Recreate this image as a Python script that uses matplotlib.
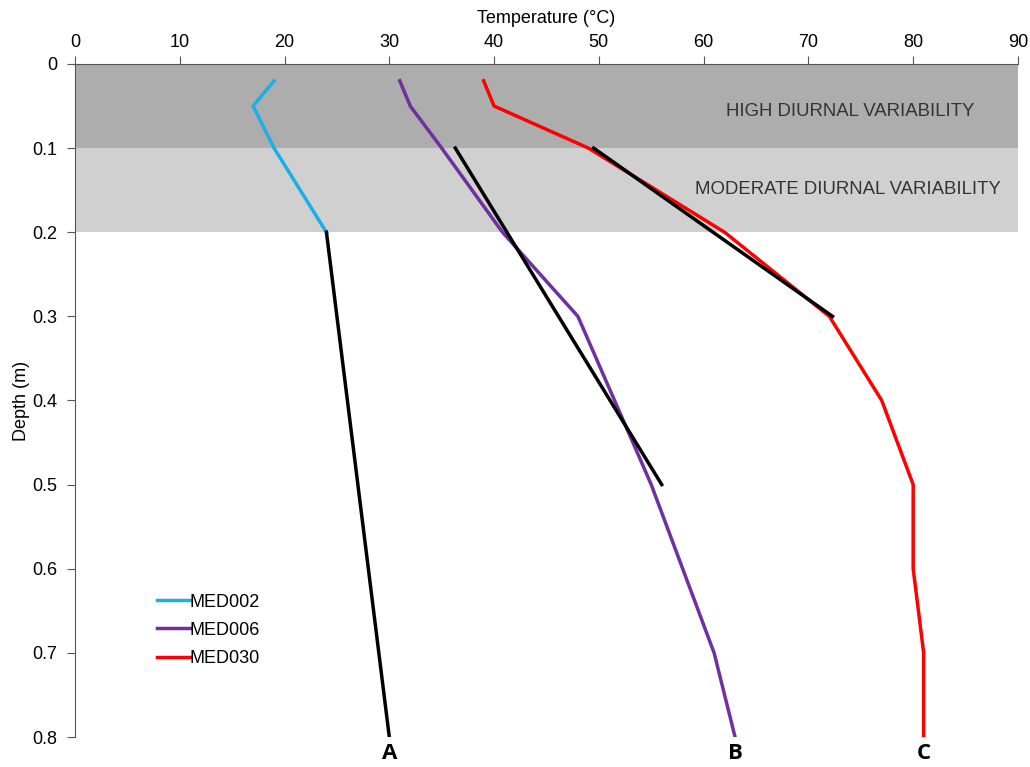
import numpy as np
import matplotlib.pyplot as plt

plt.rcParams['font.family'] = ['Liberation Sans', 'DejaVu Sans']

# depth profiles (m) and temperatures (deg C)
depth_top = [0.02, 0.05, 0.1, 0.2]
med002_t = [19, 17, 19, 24]

depth_full = [0.02, 0.05, 0.1, 0.2, 0.3, 0.4, 0.5, 0.6, 0.7, 0.8]
med006_t = [31, 32, 35, 40.8, 48, 51.5, 55, 58, 61, 63]
med030_t = [39, 40, 49, 62, 72, 77, 80, 80, 81, 81]

# black trend lines (temp, depth)
fit_a_t = [24, 30]
fit_a_d = [0.2, 0.8]
fit_b_t = [36.3, 56]
fit_b_d = [0.1, 0.5]
fit_c_t = [49.5, 72.3]
fit_c_d = [0.1, 0.3]

profile_labels = ['A', 'B', 'C']
profile_label_x = [30, 63, 81]

fig = plt.figure(figsize=(10.3, 7.67), dpi=100)
ax = fig.add_axes([0.0728, 0.0391, 0.9155, 0.8775])

# variability bands
ax.axhspan(0, 0.1, color='#adadad', zorder=0, lw=0)
ax.axhspan(0.1, 0.2, color='#d0d0d0', zorder=0, lw=0)
ax.text(74, 0.056, 'HIGH DIURNAL VARIABILITY', ha='center', va='center', fontsize=13.4, color='#333333')
ax.text(73.8, 0.149, 'MODERATE DIURNAL VARIABILITY', ha='center', va='center', fontsize=13.4, color='#333333')

ax.plot(med002_t, depth_top, color='#1aafe6', lw=2.5, label='MED002')
ax.plot(med006_t, depth_full, color='#7030a0', lw=2.5, label='MED006')
ax.plot(med030_t, depth_full, color='#ff0000', lw=2.5, label='MED030')

ax.plot(fit_a_t, fit_a_d, color='black', lw=2.5)
ax.plot(fit_b_t, fit_b_d, color='black', lw=2.5)
ax.plot(fit_c_t, fit_c_d, color='black', lw=2.5)

ax.set_xlim(0, 90)
ax.set_ylim(0.8, 0)
ax.xaxis.tick_top()
ax.xaxis.set_label_position('top')
ax.set_xticks(np.arange(0, 91, 10))
ax.set_yticks(np.arange(0, 0.81, 0.1))
ax.set_yticklabels(['0', '0.1', '0.2', '0.3', '0.4', '0.5', '0.6', '0.7', '0.8'])
ax.tick_params(labelsize=13, length=6, color='#555555', direction='out')
ax.tick_params(axis='x', pad=3)
ax.tick_params(axis='y', pad=7)
ax.set_xlabel('Temperature (°C)', fontsize=13, labelpad=8)
ax.set_ylabel('Depth (m)', fontsize=13, labelpad=1)
for s in ['right', 'bottom']:
    ax.spines[s].set_visible(False)
for s in ['left', 'top']:
    ax.spines[s].set_color('#555555')

for lab, x in zip(profile_labels, profile_label_x):
    ax.text(x, 0.82, lab, ha='center', va='center', fontsize=16, fontweight='bold',
            family=['Open Sans', 'DejaVu Sans'], clip_on=False)

leg = ax.legend(loc='lower left', bbox_to_anchor=(0.07, 0.08), frameon=False, fontsize=13,
                handlelength=1.8, handletextpad=0.0, labelspacing=0.62)

fig.savefig('out.png', dpi=100)
